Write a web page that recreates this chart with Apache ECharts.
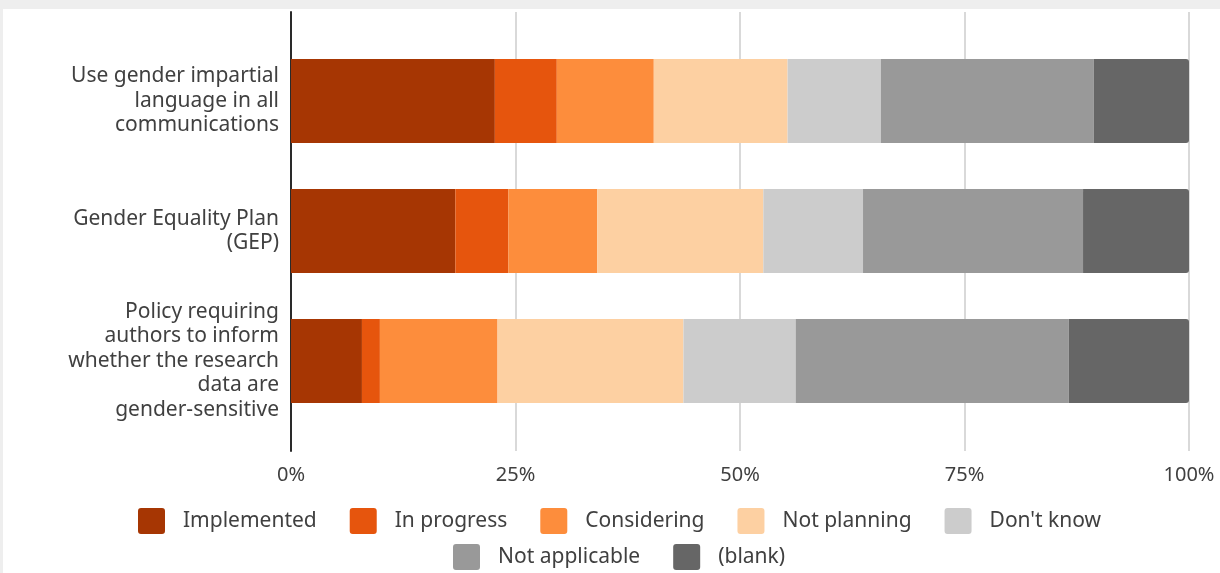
<!DOCTYPE html>
<html>
<head>
<meta charset="utf-8">
<script src="https://cdn.jsdelivr.net/npm/echarts@6/dist/echarts.min.js"></script>
<style>
  html, body { margin: 0; padding: 0; background: #eeeeee; width: 1220px; height: 573px; overflow: hidden; }
  #chart { position: absolute; left: 3px; top: 9px; width: 1217px; height: 564px; background: #ffffff; }
</style>
</head>
<body>
<div id="chart"></div>
<script>
const categories = [
  "Use gender impartial\nlanguage in all\ncommunications",
  "Gender Equality Plan\n(GEP)",
  "Policy requiring\nauthors to inform\nwhether the research\ndata are\ngender-sensitive"
];
const seriesNames = ["Implemented", "In progress", "Considering", "Not planning", "Don't know", "Not applicable", "(blank)"];
const implemented   = [22.7, 18.3, 7.9];
const inProgress    = [6.9, 5.9, 2.0];
const considering   = [10.8, 9.9, 13.1];
const notPlanning   = [14.9, 18.5, 20.7];
const dontKnow      = [10.4, 11.1, 12.5];
const notApplicable = [23.7, 24.5, 30.4];
const blank         = [10.6, 11.8, 13.4];
const tickValues = [0, 25, 50, 75, 100];

const seriesData = [implemented, inProgress, considering, notPlanning, dontKnow, notApplicable, blank];
const colors = ["#a63603", "#e6550d", "#fd8d3c", "#fdd0a2", "#cccccc", "#999999", "#666666"];

const FONT = "Noto Sans";
const TXT = "#404040";

const chart = echarts.init(document.getElementById('chart'), null, { renderer: 'canvas' });

const series = seriesNames.map((name, i) => ({
  name: name,
  type: 'bar',
  stack: 'total',
  xAxisIndex: 0,
  yAxisIndex: 0,
  barWidth: 84,
  itemStyle: {
    color: colors[i],
    borderRadius: i === seriesNames.length - 1 ? [0, 3, 3, 0] : 0
  },
  emphasis: { disabled: true },
  data: seriesData[i],
  z: 3
}));

const legendCommon = {
  orient: 'horizontal',
  itemWidth: 27,
  itemHeight: 26,
  itemGap: 33,
  padding: 0,
  icon: 'path://M3,0 h21 a3,3 0 0 1 3,3 v20 a3,3 0 0 1 -3,3 h-21 a3,3 0 0 1 -3,-3 v-20 a3,3 0 0 1 3,-3 z',
  textStyle: { fontFamily: FONT, fontSize: 21, color: TXT, padding: [0, 0, 0, 13] },
  selectedMode: false
};

chart.setOption({
  animation: false,
  textStyle: { fontFamily: FONT },
  grid: [
    { left: 288, right: 31, top: 27, height: 390, containLabel: false },
    { left: 288, right: 31, top: 3, height: 439, containLabel: false }
  ],
  xAxis: [
    { gridIndex: 0, type: 'value', min: 0, max: 100, interval: 25, show: false },
    {
      gridIndex: 1, type: 'value', min: 0, max: 100, interval: 25,
      axisLine: { show: false }, axisTick: { show: false },
      splitLine: { show: true, lineStyle: { color: '#cccccc', width: 1.5 } },
      axisLabel: {
        margin: 14, fontFamily: FONT, fontSize: 20, color: TXT,
        customValues: tickValues,
        formatter: v => v + '%'
      }
    }
  ],
  yAxis: [
    {
      gridIndex: 0, type: 'category', data: categories, inverse: true,
      axisLine: { show: false }, axisTick: { show: false }, splitLine: { show: false },
      axisLabel: { margin: 12, fontFamily: FONT, fontSize: 21, lineHeight: 24.5, color: TXT, align: 'right' }
    },
    {
      gridIndex: 1, type: 'value', min: 0, max: 1,
      axisLine: { show: true, onZero: false, lineStyle: { color: '#2a2a2a', width: 2 } },
      axisTick: { show: false }, axisLabel: { show: false }, splitLine: { show: false }
    }
  ],
  legend: [
    Object.assign({}, legendCommon, { left: 135, top: 499, data: seriesNames.slice(0, 5) }),
    Object.assign({}, legendCommon, { left: 450, top: 535, data: seriesNames.slice(5) })
  ],
  series: series
});
</script>
</body>
</html>
